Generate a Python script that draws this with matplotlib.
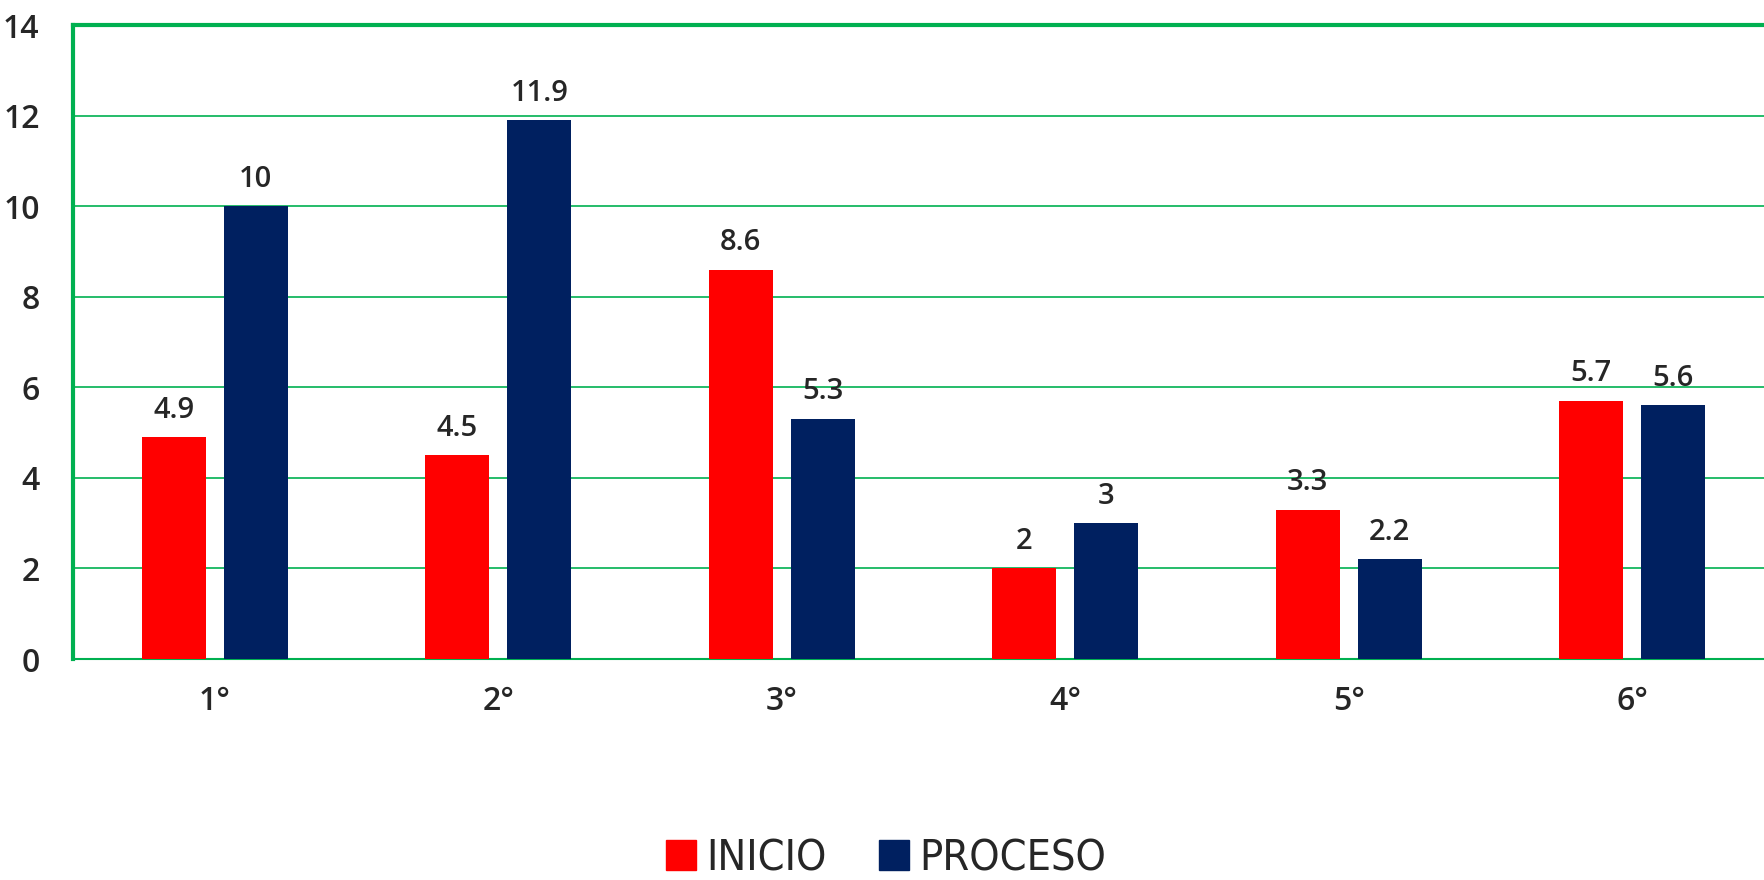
import matplotlib
matplotlib.use("Agg")
import matplotlib.pyplot as plt
import numpy as np
from matplotlib.patches import Patch

grados = ["1°", "2°", "3°", "4°", "5°", "6°"]
inicio = [4.9, 4.5, 8.6, 2, 3.3, 5.7]
proceso = [10, 11.9, 5.3, 3, 2.2, 5.6]
series_names = ["INICIO", "PROCESO"]
y_ticks = [0, 2, 4, 6, 8, 10, 12, 14]

RED = "#FF0000"
NAVY = "#002060"
GREEN = "#00B050"
TXT = "#262626"

plt.rcParams['font.family'] = ['Open Sans', 'DejaVu Sans']

fig = plt.figure(figsize=(17.64, 8.8), dpi=100)
ax = fig.add_axes([73 / 1764, 1 - 659 / 880, 1701 / 1764, (659 - 25) / 880])

x = np.arange(len(grados))
w = 0.225
off = 0.145
b1 = ax.bar(x - off, inicio, w, color=RED, zorder=3)
b2 = ax.bar(x + off, proceso, w, color=NAVY, zorder=3)

# value labels above each bar
for bars, vals in ((b1, inicio), (b2, proceso)):
    for rect, v in zip(bars, vals):
        ax.annotate(f"{v:g}", (rect.get_x() + rect.get_width() / 2, v),
                    xytext=(0, 9), textcoords="offset points",
                    ha="center", va="bottom", fontsize=21, color=TXT,
                    fontweight=600)

ax.set_xlim(-0.5, len(grados) - 0.5)
ax.set_ylim(0, 14)
ax.set_yticks(y_ticks)
ax.set_xticks(x)
ax.set_xticklabels(grados)
ax.tick_params(axis="both", length=0, labelsize=23, labelcolor=TXT)
ax.tick_params(axis="y", pad=24)
ax.tick_params(axis="x", pad=19)
for lab in ax.get_xticklabels() + ax.get_yticklabels():
    lab.set_fontweight(600)

ax.grid(axis="y", color=GREEN, linewidth=1.2, zorder=0)
for side in ("left", "top", "bottom"):
    ax.spines[side].set_color(GREEN)
    ax.spines[side].set_linewidth(3)
ax.spines["bottom"].set_linewidth(1.5)
ax.spines["right"].set_visible(False)

handles = [Patch(color=RED), Patch(color=NAVY)]
leg = fig.legend(handles, series_names, loc="center", bbox_to_anchor=(886 / 1764, 1 - 858 / 880),
                 ncol=2, frameon=False, handlelength=0.7, handleheight=0.7,
                 handletextpad=0.25, columnspacing=1.2,
                 prop={'family': ['Liberation Sans Narrow', 'DejaVu Sans'],
                       'stretch': 'condensed', 'size': 31})
for t in leg.get_texts():
    t.set_color(TXT)

fig.savefig("out.png", dpi=100)
